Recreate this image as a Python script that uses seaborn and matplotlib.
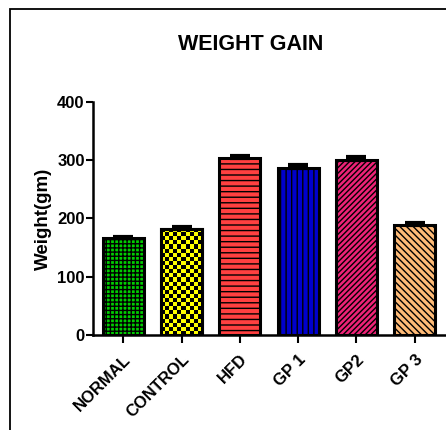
import matplotlib
matplotlib.use("Agg")
import matplotlib.pyplot as plt
import seaborn as sns
import numpy as np
import pandas as pd
from matplotlib.patches import Rectangle
from matplotlib.colors import ListedColormap

groups = ["NORMAL", "CONTROL", "HFD", "GP 1", "GP2", "GP 3"]
means = [167, 182, 304, 286, 300, 188]
sem = [2, 4, 4, 5, 5, 4]
colors = ["#00cc00", "#ffff00", "#ff4040", "#0000cc", "#ee2277", "#ffbb77"]
hatches = ["++++", "", "---", "|||", "//////", "\\\\\\\\\\"]
yticks = [0, 100, 200, 300, 400]

sns.set_style("ticks")
plt.rcParams["font.family"] = ["Liberation Sans", "DejaVu Sans"]
plt.rcParams["hatch.color"] = "black"
plt.rcParams["hatch.linewidth"] = 1.0
plt.rcParams["text.color"] = "black"
plt.rcParams["axes.labelcolor"] = "black"

fig = plt.figure(figsize=(4.46, 4.30), dpi=100)
ax = fig.add_axes([93/446, 1-335/430, (445-93)/446, (335-102)/430])

df = pd.DataFrame({"group": groups, "mean": means})
sns.barplot(data=df, x="group", y="mean", hue="group", palette=colors,
            order=groups, hue_order=groups, legend=False, errorbar=None,
            width=0.7, edgecolor="black", linewidth=2.2, ax=ax, saturation=1)

bars = ax.patches[:len(groups)]
for b, h in zip(bars, hatches):
    b.set_hatch(h)
    b.set_zorder(2)

# checkerboard for CONTROL
cb = bars[1]
x0, w = cb.get_x(), cb.get_width()
hgt = cb.get_height()
nx = 10
ny = int(round(hgt / 7.0))
chk = (np.indices((ny, nx)).sum(axis=0) % 2).astype(float)
img = ax.imshow(chk, cmap=ListedColormap(["#ffff00", "black"]),
                extent=[x0, x0 + w, 0, ny * 7.0], origin="lower",
                aspect="auto", interpolation="nearest", zorder=2.5)
img.set_clip_path(cb)
edge = Rectangle((x0, 0), w, hgt, fill=False, ec="black", lw=2.2, zorder=3)
ax.add_patch(edge)

xs = np.arange(len(groups))
ax.errorbar(xs, means, yerr=[np.zeros(len(sem)), sem], fmt="none",
            ecolor="black", elinewidth=2, capsize=7.5, capthick=3, zorder=4)

ax.set_xlim(-0.52, 5.52)
ax.set_ylim(0, 400)
ax.set_yticks(yticks)
ax.set_yticklabels([str(t) for t in yticks], fontsize=12, fontweight="bold")
ax.set_xticks(xs)
ax.set_xticklabels(groups, rotation=45, ha="right", rotation_mode="anchor",
                   fontsize=12, fontweight="bold")
ax.set_xlabel("")
ax.set_ylabel("Weight(gm)", fontsize=13.5, fontweight="bold", labelpad=4)
ax.tick_params(axis="both", width=1.5, length=5, color="black", labelcolor="black")
ax.tick_params(axis="y", pad=1)
ax.tick_params(axis="x", length=6, pad=6)
for s in ["left", "bottom"]:
    ax.spines[s].set_linewidth(1.8)
    ax.spines[s].set_color("black")
sns.despine(ax=ax)

fig.text(251/446, 1-45/430, "WEIGHT GAIN", ha="center", va="center",
         fontsize=15.5, fontweight="bold", color="black")

border = Rectangle((10/446, -0.2), 1.5, 1-9/430+0.2, transform=fig.transFigure,
                   fill=False, ec="black", lw=1.3, clip_on=False)
fig.patches.append(border)

fig.savefig("out.png", dpi=100)
